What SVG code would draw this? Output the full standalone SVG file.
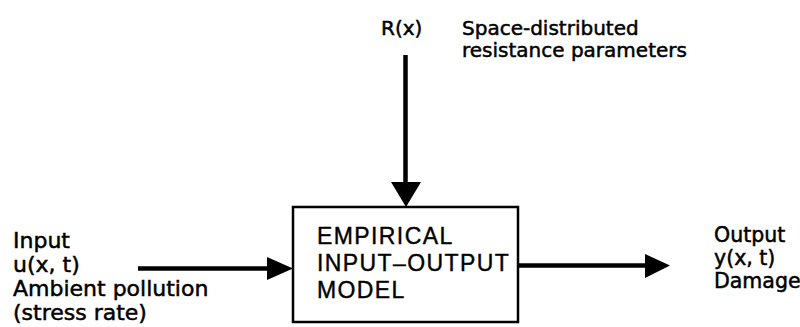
<svg xmlns="http://www.w3.org/2000/svg" width="800" height="327" viewBox="0 0 800 327">
<style>
.lbl{font-family:"DejaVu Sans","Liberation Sans",sans-serif;fill:#000;stroke:#000;stroke-width:0.5}
.box{font-family:"Liberation Sans","DejaVu Sans",sans-serif;font-size:23px;letter-spacing:1.4px;fill:#000;stroke:#000;stroke-width:0.4}
.ln{stroke:#000;stroke-width:4.5;fill:none}
</style>
<rect width="800" height="327" fill="#fff"/>
<g id="model">
<rect x="293" y="207" width="225" height="115" fill="#fff" stroke="#000" stroke-width="2.5"/>
<text class="box" x="317" y="244">EMPIRICAL</text>
<text class="box" x="317" y="271">INPUT–OUTPUT</text>
<text class="box" x="317" y="298">MODEL</text>
</g>
<g id="resistance">
<text class="lbl" x="381" y="35" font-size="20">R(x)</text>
<text class="lbl" x="462" y="35" font-size="20">Space-distributed</text>
<text class="lbl" x="462" y="57" font-size="20">resistance parameters</text>
</g>
<g id="input">
<text class="lbl" x="13" y="248" font-size="22">Input</text>
<text class="lbl" x="13" y="272" font-size="22">u(x, t)</text>
<text class="lbl" x="13" y="296" font-size="22">Ambient pollution</text>
<text class="lbl" x="13" y="320" font-size="22">(stress rate)</text>
</g>
<g id="output">
<text class="lbl" x="714" y="242" font-size="20.5">Output</text>
<text class="lbl" x="714" y="265" font-size="20.5">y(x, t)</text>
<text class="lbl" x="714" y="288" font-size="20.5">Damage</text>
</g>
<g id="connectors">
<line class="ln" x1="405.5" y1="55" x2="405.5" y2="185"/>
<polygon points="391,182 421,182 406,207"/>
<line class="ln" x1="138" y1="268.5" x2="270" y2="268.5"/>
<polygon points="267,257 267,280 293,268.5"/>
<line class="ln" x1="518" y1="265.5" x2="648" y2="265.5"/>
<polygon points="645,254 645,278 670,265.5"/>
</g>
</svg>
